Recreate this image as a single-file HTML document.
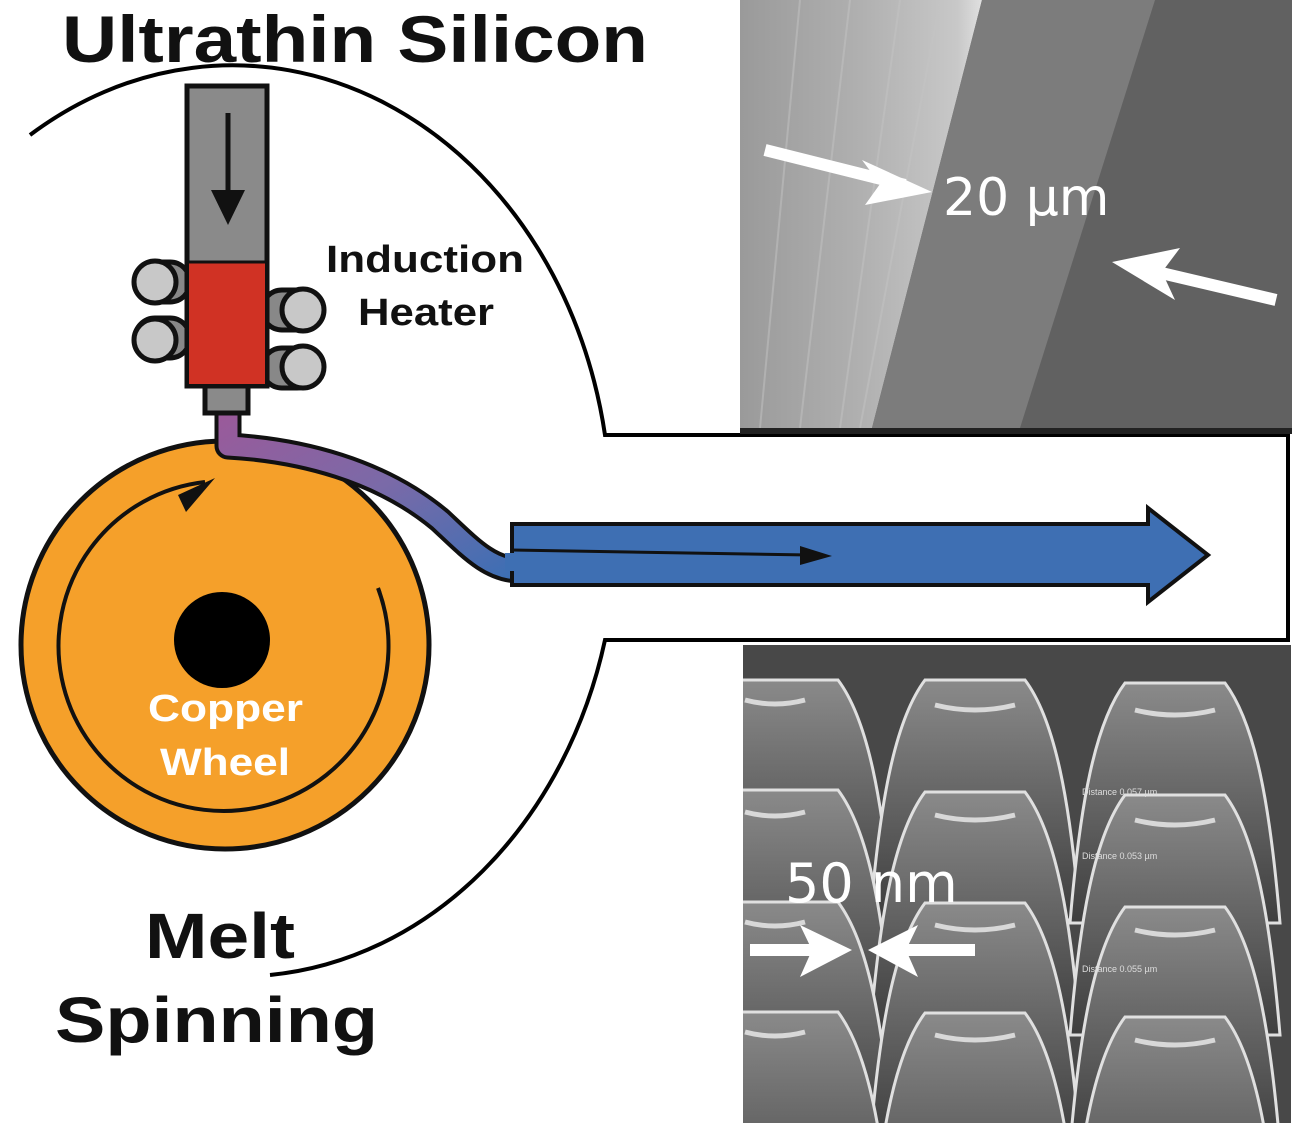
<!DOCTYPE html>
<html><head><meta charset="utf-8"><style>
html,body{margin:0;padding:0;background:#fff;width:1302px;height:1130px;overflow:hidden}
svg{display:block;overflow:hidden}
text{font-family:"Liberation Sans",sans-serif}
</style></head><body>
<svg width="1302" height="1130" viewBox="0 0 1302 1130" xmlns="http://www.w3.org/2000/svg">
<defs>
<linearGradient id="tex" x1="0" y1="0" x2="1" y2="0">
<stop offset="0" stop-color="#9a9a9a"/><stop offset="0.5" stop-color="#b0b0b0"/><stop offset="0.9" stop-color="#c8c8c8"/><stop offset="1" stop-color="#e0e0e0"/>
</linearGradient>
<linearGradient id="dome" x1="0" y1="0" x2="0" y2="1">
<stop offset="0" stop-color="#8a8a8a"/><stop offset="1" stop-color="#3e3e3e"/>
</linearGradient>
<linearGradient id="stream" x1="0" y1="0" x2="1" y2="1">
<stop offset="0" stop-color="#9a5a9a"/><stop offset="0.5" stop-color="#7a6aa8"/><stop offset="1" stop-color="#3d6fb4"/>
</linearGradient>
<clipPath id="c"><rect x="743" y="645" width="548" height="478"/></clipPath>
</defs>

<!-- top SEM -->
<rect x="740" y="0" width="552" height="428" fill="#616161"/>
<polygon points="740,0 982,0 872,428 740,428" fill="url(#tex)"/>
<polygon points="982,0 1155,0 1020,428 872,428" fill="#7c7c7c"/>
<g stroke="#c4c4c4" stroke-width="2" opacity="0.5" fill="none">
<path d="M800,0 L760,428"/><path d="M850,0 L800,428"/><path d="M900,0 L840,428"/><path d="M940,0 L860,428"/>
</g>
<line x1="765" y1="150" x2="905" y2="185" stroke="#fff" stroke-width="12"/>
<polygon points="932,192 862,160 880,184 865,205" fill="#fff"/>
<line x1="1276" y1="300" x2="1140" y2="268" stroke="#fff" stroke-width="12"/>
<polygon points="1112,262 1180,248 1162,272 1175,300" fill="#fff"/>
<text x="943" y="215" font-size="52" fill="#fff" style="font-family:'DejaVu Sans',sans-serif">20 µm</text>

<!-- bottom SEM -->
<rect x="743" y="645" width="548" height="478" fill="#484848"/>
<g clip-path="url(#c)" stroke="#e0e0e0" stroke-width="3" fill="url(#dome)">
<path transform="translate(788,680)" d="M-105,240 C-95,120 -80,40 -50,0 L50,0 C80,40 95,120 105,240 Z"/>
<path transform="translate(975,680)" d="M-105,240 C-95,120 -80,40 -50,0 L50,0 C80,40 95,120 105,240 Z"/>
<path transform="translate(1175,683)" d="M-105,240 C-95,120 -80,40 -50,0 L50,0 C80,40 95,120 105,240 Z"/>
<path transform="translate(788,790)" d="M-105,240 C-95,120 -80,40 -50,0 L50,0 C80,40 95,120 105,240 Z"/>
<path transform="translate(975,792)" d="M-105,240 C-95,120 -80,40 -50,0 L50,0 C80,40 95,120 105,240 Z"/>
<path transform="translate(1175,795)" d="M-105,240 C-95,120 -80,40 -50,0 L50,0 C80,40 95,120 105,240 Z"/>
<path transform="translate(788,902)" d="M-105,240 C-95,120 -80,40 -50,0 L50,0 C80,40 95,120 105,240 Z"/>
<path transform="translate(975,903)" d="M-105,240 C-95,120 -80,40 -50,0 L50,0 C80,40 95,120 105,240 Z"/>
<path transform="translate(1175,907)" d="M-105,240 C-95,120 -80,40 -50,0 L50,0 C80,40 95,120 105,240 Z"/>
<path transform="translate(788,1012)" d="M-105,240 C-95,120 -80,40 -50,0 L50,0 C80,40 95,120 105,240 Z"/>
<path transform="translate(975,1013)" d="M-105,240 C-95,120 -80,40 -50,0 L50,0 C80,40 95,120 105,240 Z"/>
<path transform="translate(1175,1017)" d="M-105,240 C-95,120 -80,40 -50,0 L50,0 C80,40 95,120 105,240 Z"/>
</g>
<g stroke="#eee" stroke-width="5" fill="none" opacity="0.8" clip-path="url(#c)">
<path d="M745,700 q30,8 60,0"/><path d="M935,705 q40,10 80,0"/><path d="M1135,710 q40,10 80,0"/>
<path d="M745,812 q30,8 60,0"/><path d="M935,815 q40,10 80,0"/><path d="M1135,820 q40,10 80,0"/>
<path d="M745,922 q30,8 60,0"/><path d="M935,925 q40,10 80,0"/><path d="M1135,930 q40,10 80,0"/>
<path d="M745,1032 q30,8 60,0"/><path d="M935,1035 q40,10 80,0"/><path d="M1135,1040 q40,10 80,0"/>
</g>
<g fill="#ddd" font-size="9"><text x="1082" y="795">Distance 0.057 µm</text><text x="1082" y="859">Distance 0.053 µm</text><text x="1082" y="972">Distance 0.055 µm</text></g>
<text x="785" y="902" font-size="54" fill="#fff" style="font-family:'DejaVu Sans',sans-serif">50 nm</text>
<rect x="750" y="944" width="80" height="12" fill="#fff"/>
<polygon points="852,950 800,925 812,950 800,977" fill="#fff"/>
<rect x="900" y="944" width="75" height="12" fill="#fff"/>
<polygon points="868,950 918,925 906,950 918,977" fill="#fff"/>

<!-- outline -->
<path d="M30,135 A378,447 0 0 1 605,435 L1288,435 L1288,640 L605,640 A378,447 0 0 1 270,975" fill="none" stroke="#000" stroke-width="4"/>
<rect x="605" y="437" width="681" height="201" fill="#fff"/>
<rect x="740" y="428" width="552" height="6" fill="#222"/>

<!-- wheel -->
<circle cx="225" cy="645" r="204" fill="#f5a02a" stroke="#111" stroke-width="5"/>
<circle cx="222" cy="640" r="48" fill="#000"/>
<path d="M378,588 A165,165 0 1 1 205,482" fill="none" stroke="#111" stroke-width="4"/>
<polygon points="215,478 178,495 186,512" fill="#111"/>

<!-- stream -->
<path d="M228,412 L228,446 C300,450 380,470 440,520 C470,548 490,570 520,570" fill="none" stroke="#111" stroke-width="27" stroke-linejoin="round"/>
<path d="M228,412 L228,446 C300,450 380,470 440,520 C470,548 490,570 520,570" fill="none" stroke="url(#stream)" stroke-width="19" stroke-linejoin="round"/>
<polygon points="512,524 1148,524 1148,508 1208,555 1148,602 1148,585 512,585" fill="#3e6fb3" stroke="#111" stroke-width="4"/>
<path d="M505,562 L516,562" stroke="#3e6fb3" stroke-width="18"/>
<line x1="512" y1="550" x2="810" y2="555" stroke="#111" stroke-width="3"/>
<polygon points="832,556 800,546 800,565" fill="#111"/>

<!-- nozzle -->
<rect x="205" y="385" width="43" height="28" fill="#8a8a8a" stroke="#111" stroke-width="5"/>
<g fill="#c8c8c8" stroke="#111" stroke-width="5">
<rect x="135" y="262" width="55" height="40" rx="20" fill="#888"/>
<rect x="135" y="318" width="55" height="40" rx="20" fill="#888"/>
<circle cx="155" cy="282" r="21"/><circle cx="155" cy="340" r="21"/>
<rect x="262" y="290" width="55" height="40" rx="20" fill="#888"/>
<rect x="262" y="348" width="55" height="40" rx="20" fill="#888"/>
<circle cx="303" cy="310" r="21"/><circle cx="303" cy="367" r="21"/>
</g>
<rect x="187" y="86" width="80" height="300" fill="#8a8a8a" stroke="#111" stroke-width="5"/>
<rect x="189" y="263" width="76" height="121" fill="#d03224"/>
<line x1="187" y1="262" x2="267" y2="262" stroke="#111" stroke-width="3"/>
<line x1="228" y1="113" x2="228" y2="195" stroke="#111" stroke-width="5"/>
<polygon points="211,190 245,190 228,225" fill="#111"/>

<!-- labels -->
<text x="62" y="62" font-size="66" font-weight="bold" fill="#111" textLength="586" lengthAdjust="spacingAndGlyphs">Ultrathin Silicon</text>
<text x="326" y="272" font-size="38" font-weight="bold" fill="#111" textLength="198" lengthAdjust="spacingAndGlyphs">Induction</text>
<text x="358" y="325" font-size="38" font-weight="bold" fill="#111" textLength="136" lengthAdjust="spacingAndGlyphs">Heater</text>
<text x="148" y="721" font-size="38" font-weight="bold" fill="#fff" textLength="155" lengthAdjust="spacingAndGlyphs">Copper</text>
<text x="160" y="775" font-size="38" font-weight="bold" fill="#fff" textLength="130" lengthAdjust="spacingAndGlyphs">Wheel</text>
<text x="145" y="958" font-size="64" font-weight="bold" fill="#111" textLength="150" lengthAdjust="spacingAndGlyphs">Melt</text>
<text x="55" y="1042" font-size="64" font-weight="bold" fill="#111" textLength="323" lengthAdjust="spacingAndGlyphs">Spinning</text>
</svg>
</body></html>
